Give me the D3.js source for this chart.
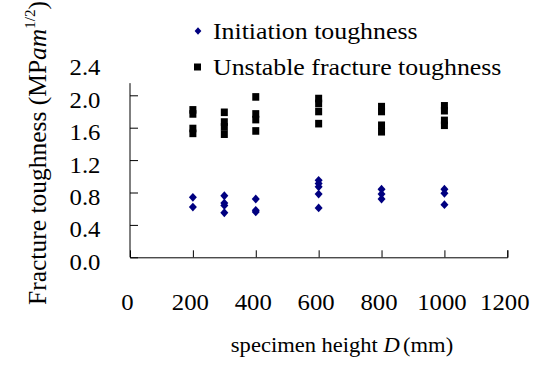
<!DOCTYPE html>
<html>
<head>
<meta charset="utf-8">
<script src="https://cdn.jsdelivr.net/npm/d3@7"></script>
<style>
  html, body { margin: 0; padding: 0; background: #fff; }
  svg { display: block; }
  svg text { font-family: "Liberation Serif", "Times New Roman", serif; }
</style>
</head>
<body>
<svg id="chart" width="545" height="376"></svg>
<script>
// Specimen heights D (mm) tested
const specimenHeights = [200, 300, 400, 600, 800, 1000];

// Initiation toughness (MPa·m^1/2), one list per specimen height
const initiationToughness = [
  [0.74, 0.62],
  [0.76, 0.67, 0.64, 0.55],
  [0.72, 0.58, 0.56],
  [0.95, 0.91, 0.87, 0.78, 0.61],
  [0.84, 0.78, 0.72],
  [0.84, 0.79, 0.65]
];

// Unstable fracture toughness (MPa·m^1/2), one list per specimen height
const unstableToughness = [
  [1.82, 1.77, 1.59, 1.53],
  [1.79, 1.67, 1.61, 1.52],
  [1.98, 1.77, 1.70, 1.56],
  [1.96, 1.90, 1.80, 1.65],
  [1.86, 1.80, 1.63, 1.55],
  [1.87, 1.81, 1.69, 1.63]
];

const xTicks = [0, 200, 400, 600, 800, 1000, 1200];
const yTicks = [0.0, 0.4, 0.8, 1.2, 1.6, 2.0, 2.4];
const yAxisTop = 2.15;   // the vertical axis line stops short of the last label

const seriesNames = ["Initiation toughness", "Unstable fracture toughness"];
const seriesColors = ["#000080", "#000000"];

const sx = 1.1; // horizontal widening of the serif lettering

const svg = d3.select("#chart");

const x = d3.scaleLinear().domain([0, 1200]).range([130, 507.3]);
const y = d3.scaleLinear().domain([0, 2.4]).range([257.3, 62.9]);

// flatten grouped values into points
const toPoints = groups => groups.flatMap((vals, i) =>
  vals.map(v => ({ d: specimenHeights[i], v })));
const initPts = toPoints(initiationToughness);
const unstPts = toPoints(unstableToughness);

// a slightly tall rhombus marker
const rhombus = {
  draw(ctx, size) {
    const r = Math.sqrt(size) / 2;
    ctx.moveTo(0, -r * 1.1);
    ctx.lineTo(r, 0);
    ctx.lineTo(0, r * 1.1);
    ctx.lineTo(-r, 0);
    ctx.closePath();
  }
};

// ---- axes ----
const xAxis = svg.append("g")
  .attr("transform", `translate(0,${y(0)})`)
  .call(d3.axisBottom(x).tickValues(xTicks).tickSize(-7).tickFormat(d3.format("d")));
xAxis.attr("font-family", null);
xAxis.select(".domain").attr("stroke", "#000");
xAxis.selectAll(".tick line").attr("stroke", "#000").filter(d => d === 0).remove();
xAxis.selectAll(".tick text")
  .attr("x", null).attr("y", null).attr("dy", null)
  .attr("fill", "#000")
  .attr("font-size", 22.5)
  .attr("text-anchor", "middle")
  .attr("transform", `translate(-3,53) scale(${sx},1)`);

const yAxis = svg.append("g")
  .attr("transform", `translate(${x(0)},0)`)
  .call(d3.axisLeft(y).tickValues(yTicks).tickSize(-8).tickFormat(d3.format(".1f")));
yAxis.attr("font-family", null);
yAxis.select(".domain").remove();
yAxis.selectAll(".tick line").attr("stroke", "#000").filter(d => d > yAxisTop).remove();
yAxis.selectAll(".tick text")
  .attr("x", null).attr("y", null).attr("dy", null)
  .attr("fill", "#000")
  .attr("font-size", 22.5)
  .attr("text-anchor", "end")
  .attr("transform", `translate(-29.5,12) scale(${sx},1)`);
svg.append("line")
  .attr("x1", x(0)).attr("x2", x(0))
  .attr("y1", y(0)).attr("y2", y(yAxisTop))
  .attr("stroke", "#000");

// ---- markers ----
const diamond = d3.symbol().type(rhombus).size(64);

svg.append("g").selectAll("path")
  .data(initPts).join("path")
  .attr("d", diamond)
  .attr("transform", p => `translate(${x(p.d)},${y(p.v)})`)
  .attr("fill", seriesColors[0]);

svg.append("g").selectAll("rect")
  .data(unstPts).join("rect")
  .attr("x", p => x(p.d) - 3.5)
  .attr("y", p => y(p.v) - 3.8)
  .attr("width", 7).attr("height", 7.6)
  .attr("fill", seriesColors[1]);

// ---- legend ----
const legend = svg.append("g");
const legendRows = [{ y: 31, name: seriesNames[0], shape: "diamond" },
                    { y: 67, name: seriesNames[1], shape: "square" }];
legendRows.forEach((r, i) => {
  if (r.shape === "diamond") {
    legend.append("path").attr("d", d3.symbol().type(rhombus).size(46))
      .attr("transform", `translate(198,${r.y})`)
      .attr("fill", seriesColors[i]);
  } else {
    legend.append("rect").attr("x", 194).attr("y", r.y - 3.5)
      .attr("width", 7).attr("height", 7).attr("fill", seriesColors[i]);
  }
  legend.append("text")
    .attr("transform", `translate(213,${r.y + 8}) scale(${sx},1)`)
    .attr("font-size", 23.5)
    .attr("fill", "#000")
    .text(r.name);
});

// ---- axis titles ----
const xt = svg.append("text")
  .attr("transform", `translate(342,352) scale(${sx},1)`)
  .attr("text-anchor", "middle")
  .attr("font-size", 20.5)
  .attr("fill", "#000");
xt.append("tspan").text("specimen height  ");
xt.append("tspan").attr("font-style", "italic").text("D");
xt.append("tspan").attr("dx", 3).text("(mm)");

const yt = svg.append("text")
  .attr("transform", "translate(46,153) rotate(-90)")
  .attr("text-anchor", "middle")
  .attr("font-size", 25.5)
  .attr("fill", "#000");
yt.append("tspan").text("Fracture toughness (MP");
yt.append("tspan").attr("font-style", "italic").text("am");
yt.append("tspan").attr("font-size", 15).attr("dy", -11).text("1/2");
yt.append("tspan").attr("dy", 11).text(")");
</script>
</body>
</html>
